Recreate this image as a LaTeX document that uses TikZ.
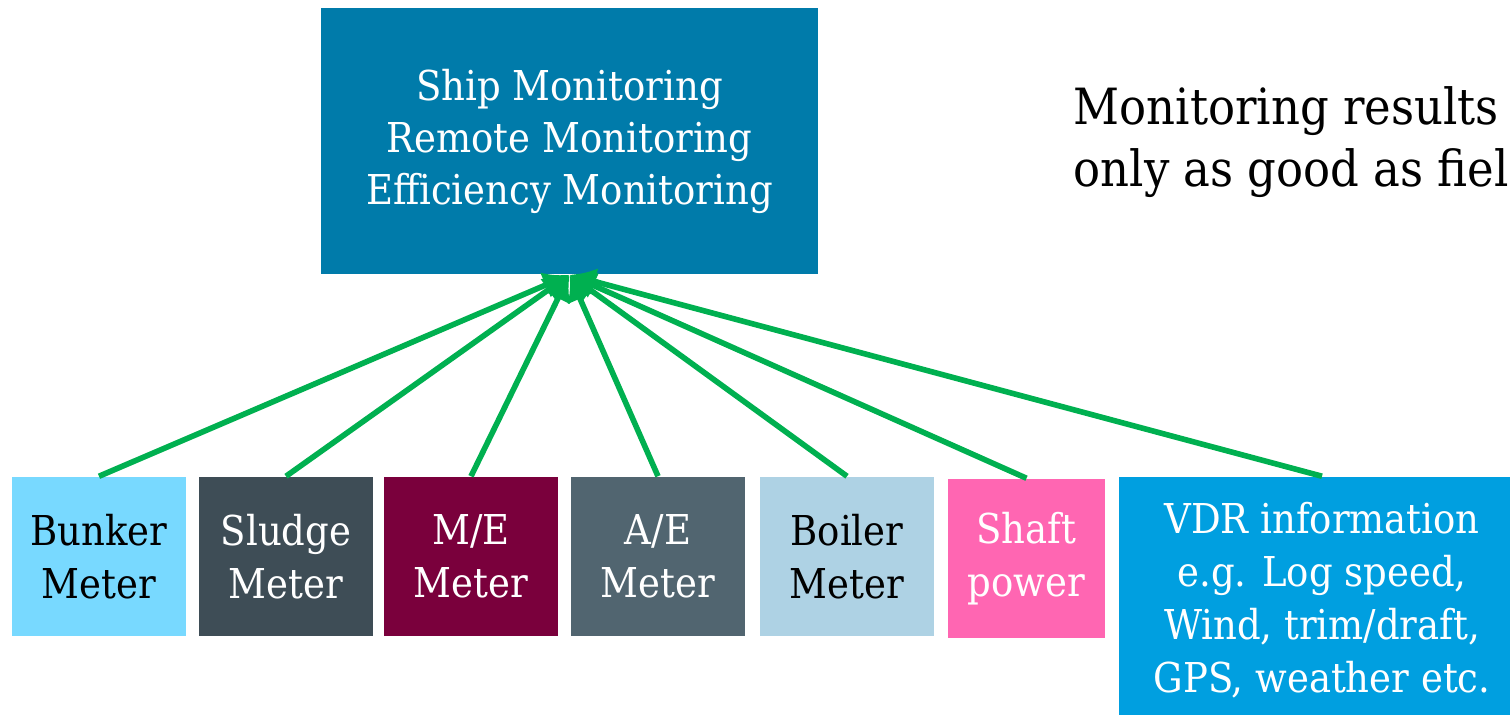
\documentclass[tikz,border=0pt]{standalone}
\usepackage{fontspec}
\setmainfont{DejaVu Serif Condensed}
\usetikzlibrary{arrows.meta}
\definecolor{monblue}{RGB}{0,123,170}
\definecolor{bunkercol}{RGB}{120,217,255}
\definecolor{sludgecol}{RGB}{62,77,86}
\definecolor{mecol}{RGB}{122,0,60}
\definecolor{aecol}{RGB}{81,101,112}
\definecolor{boilercol}{RGB}{174,210,228}
\definecolor{shaftcol}{RGB}{255,102,178}
\definecolor{vdrcol}{RGB}{0,159,224}
\definecolor{feedgreen}{RGB}{0,176,80}
\tikzset{%
  >=latex,
  inner sep=0pt,%
  box/.style={rectangle,align=center,text=white,
    font=\fontsize{11.7}{15.2}\selectfont},%
  monbox/.style={box,fill=monblue,minimum width=4.97cm,minimum height=2.66cm,
    font=\fontsize{11.7}{14.8}\selectfont},%
  meter/.style={box,minimum width=1.74cm,minimum height=1.59cm},%
  feed/.style={-{Latex[length=2.6mm,width=2.8mm]},draw=feedgreen,line width=1.6pt}%
}

\begin{document}
\begin{tikzpicture}[x=0.01cm,y=-0.01cm]
\clip (0,0) rectangle (1510,715);

% systems fed by the meters
\node[monbox] (mon) at (569.5,141) {Ship Monitoring\\Remote Monitoring\\Efficiency Monitoring};

% meters and other inputs
\node[meter,fill=bunkercol,text=black] (bunker) at (99,556.5) {Bunker\\Meter};
\node[meter,fill=sludgecol] (sludge) at (286,556.5) {Sludge\\Meter};
\node[meter,fill=mecol] (me) at (471,556.5) {M/E\\Meter};
\node[meter,fill=aecol] (ae) at (658,556.5) {A/E\\Meter};
\node[meter,fill=boilercol,text=black] (boiler) at (847,556.5) {Boiler\\Meter};
\node[meter,fill=shaftcol,minimum width=1.57cm] (shaft) at (1026.5,558.5) {Shaft\\power};
\node[box,fill=vdrcol,minimum width=4.06cm,minimum height=2.38cm,
  font=\fontsize{11.7}{15.1}\selectfont] (vdr) at (1322,596)
  {\\[-4pt]VDR information\\e.g. Log speed,\\Wind, trim/draft,\\GPS, weather etc.};

\foreach \src in {bunker,sludge,me,ae,boiler,shaft,vdr}
  \draw[feed] (\src.north) -- (mon.south);

% remark on the right
\node[anchor=north west,align=left,font=\fontsize{14.2}{17.6}\selectfont] (note)
  at (1073,86) {Monitoring results\\only as good as fiel};
\end{tikzpicture}
\end{document}
